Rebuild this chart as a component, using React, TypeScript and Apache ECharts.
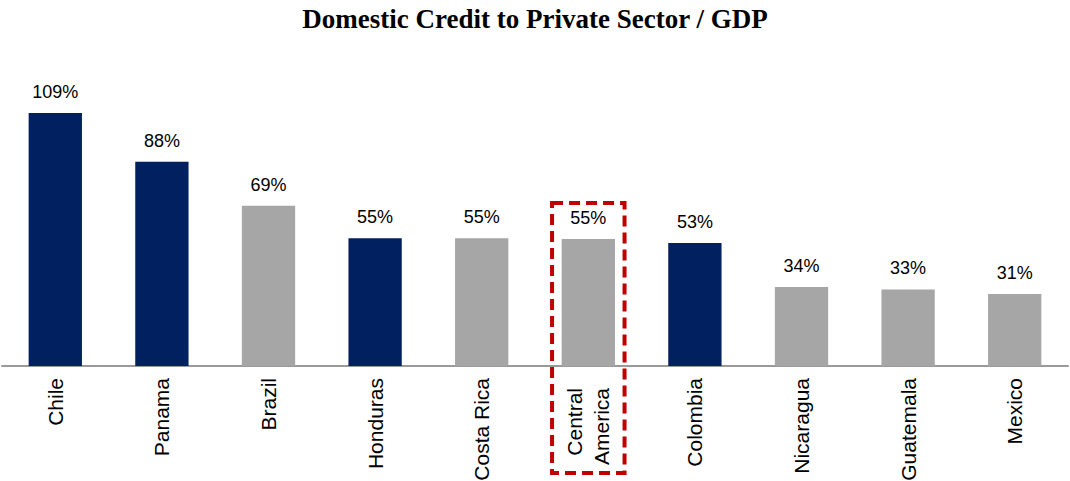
import React, { useEffect, useRef } from "react";
import * as echarts from "echarts";

const categories = ["Chile", "Panama", "Brazil", "Honduras", "Costa Rica", "Central\nAmerica", "Colombia", "Nicaragua", "Guatemala", "Mexico"];
const values = [109, 88, 69, 55, 55, 54.7, 53, 34, 33, 31];
const labels = ["109%", "88%", "69%", "55%", "55%", "55%", "53%", "34%", "33%", "31%"];
const highlighted = [true, true, false, true, false, false, true, false, false, false];
const boxedIndex = 5;

const NAVY = "#002060";
const GRAY = "#A6A6A6";

export default function App() {
  const ref = useRef<HTMLDivElement>(null);
  useEffect(() => {
    if (!ref.current) return;
    const chart = echarts.init(ref.current, null, { renderer: "svg" });
    chart.setOption({
      animation: false,
      title: {
        text: "Domestic Credit to Private Sector / GDP",
        left: "center",
        top: 0,
        textStyle: { fontFamily: "Liberation Serif", fontWeight: "bold", fontSize: 27, color: "#000" },
      },
      grid: { left: 2, right: 2, top: 87.5, bottom: 115, containLabel: false, outerBoundsMode: "none" },
      xAxis: {
        type: "category",
        data: categories,
        axisLine: { lineStyle: { color: "#9a9a9a", width: 2 } },
        axisTick: { show: false },
        axisLabel: {
          rotate: 90,
          margin: 12,
          interval: 0,
          fontFamily: "Liberation Sans",
          fontSize: 21,
          lineHeight: 27,
          color: "#000",
          formatter: (v: string, i: number) =>
            i === boxedIndex
              ? v.split("\n").map((s) => `{ca|${s}}`).join("\n")
              : v,
          rich: {
            ca: {
              fontFamily: "Liberation Sans",
              fontSize: 21,
              lineHeight: 27,
              color: "#000",
              padding: [0, 10, 0, 0],
            },
          },
        },
      },
      yAxis: { type: "value", min: 0, max: 120, show: false, splitLine: { show: false } },
      series: [
        {
          type: "bar",
          barWidth: "50%",
          data: values.map((v, i) => ({
            value: v,
            itemStyle: { color: highlighted[i] ? NAVY : GRAY },
          })),
          label: {
            show: true,
            position: "top",
            distance: 12,
            fontFamily: "Liberation Sans",
            fontSize: 18,
            color: "#000",
            formatter: (p: any) => labels[p.dataIndex],
          },
        },
      ],
    });
    const c = chart.convertToPixel({ xAxisIndex: 0 }, boxedIndex) as number;
    const c1 = chart.convertToPixel({ xAxisIndex: 0 }, boxedIndex + 1) as number;
    const catW = c1 - c;
    const boxW = catW * 0.68;
    chart.setOption({
      graphic: [
        {
          type: "rect",
          shape: { x: c - boxW / 2, y: 203, width: boxW, height: 270 },
          style: { fill: "none", stroke: "#C00000", lineWidth: 4, lineDash: [11, 6] },
          z: 100,
        },
      ],
    });
    return () => chart.dispose();
  }, []);
  return <div ref={ref} style={{ width: 1070, height: 481, position: "absolute", left: 0, top: 0 }} />;
}
